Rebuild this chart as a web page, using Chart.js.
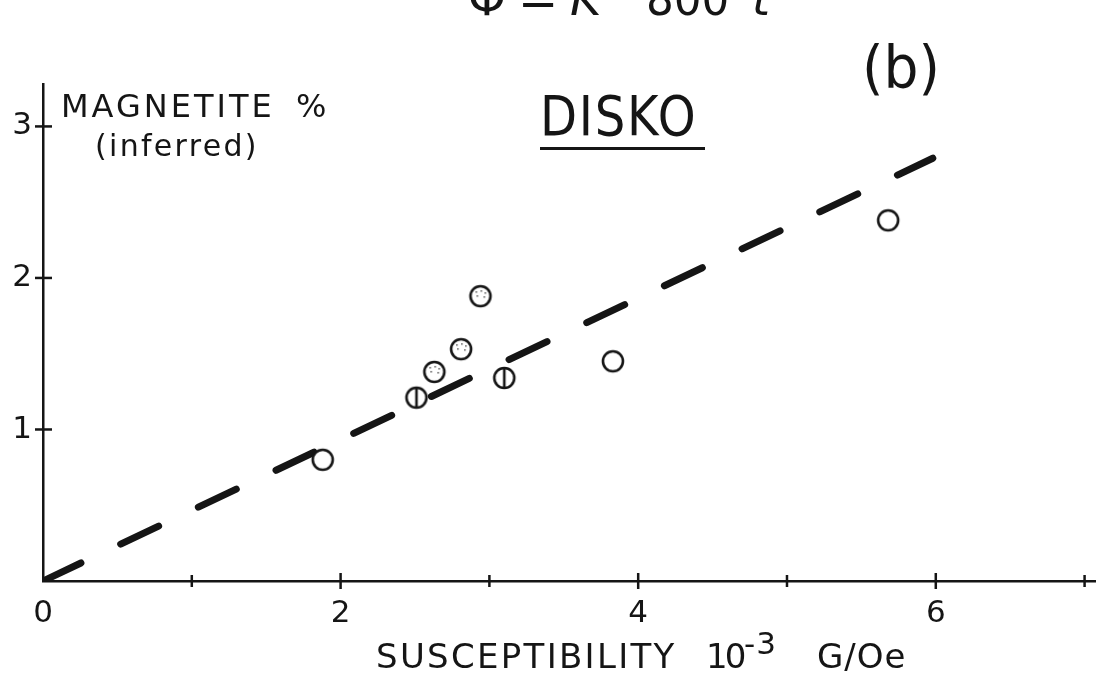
<!DOCTYPE html>
<html>
<head>
<meta charset="utf-8">
<script src="https://cdn.jsdelivr.net/npm/chart.js@4.4.1/dist/chart.umd.min.js"></script>
<style>
  html, body { margin: 0; padding: 0; background: #fff; }
  #wrap { width: 1110px; height: 677px; }
</style>
</head>
<body>
<div id="wrap"><canvas id="myChart" width="1110" height="677"></canvas></div>
<script>
// open circles
const openX = [1.88, 3.83, 5.68];
const openY = [0.80, 1.45, 2.38];
// circles with a vertical bar
const barX = [2.51, 3.10];
const barY = [1.21, 1.34];
// stippled circles
const dotX = [2.63, 2.81, 2.94];
const dotY = [1.38, 1.53, 1.88];
// dashed fit line
const fitX = [0, 5.98];
const fitY = [0, 2.79];

const xTickValues = [0, 1, 2, 3, 4, 5, 6, 7];
const xLabels = [0, 2, 4, 6];
const yTickValues = [1, 2, 3];

const ink = '#151515';
const font = 'DejaVu Sans';

const toPoints = (xs, ys) => xs.map((v, i) => ({ x: v, y: ys[i] }));

function marker(kind) {
  const c = document.createElement('canvas');
  c.width = 28; c.height = 28;
  const g = c.getContext('2d');
  g.fillStyle = '#fff';
  g.strokeStyle = ink;
  g.lineWidth = 2.6;
  g.beginPath();
  g.arc(14, 14, 10, 0, Math.PI * 2);
  g.fill();
  g.stroke();
  if (kind === 'bar') {
    g.beginPath();
    g.moveTo(14, 5);
    g.lineTo(14, 23);
    g.stroke();
  }
  if (kind === 'dots') {
    g.fillStyle = '#666';
    [[9, 9], [14, 8], [18, 10], [10, 13], [17, 14]].forEach(([a, b]) => g.fillRect(a, b, 1.6, 1.6));
  }
  return c;
}

function txt(ctx, s, x, y, size, o = {}) {
  ctx.save();
  ctx.font = (o.style || '') + ' ' + size + 'px "' + font + '"';
  ctx.letterSpacing = (o.sp || 0) + 'px';
  ctx.textAlign = 'left';
  ctx.textBaseline = 'alphabetic';
  ctx.translate(x, y);
  ctx.scale(o.sx || 1, 1);
  ctx.fillText(s, 0, 0);
  ctx.restore();
}

const decor = {
  id: 'decor',
  afterDraw(chart) {
    const { ctx, chartArea } = chart;
    const x = chart.scales.x, y = chart.scales.y;
    ctx.save();
    ctx.strokeStyle = ink;
    ctx.fillStyle = ink;
    ctx.lineWidth = 2.5;
    // tick marks crossing the axes
    xTickValues.filter(v => v > 0).forEach(v => {
      const px = x.getPixelForValue(v);
      const h = v % 2 === 0 ? 8 : 6;
      ctx.beginPath();
      ctx.moveTo(px, chartArea.bottom - h);
      ctx.lineTo(px, chartArea.bottom + h);
      ctx.stroke();
    });
    yTickValues.forEach(v => {
      const py = y.getPixelForValue(v);
      ctx.beginPath();
      ctx.moveTo(chartArea.left - 8, py);
      ctx.lineTo(chartArea.left + 9, py);
      ctx.stroke();
    });

    // clipped equation at the very top
    txt(ctx, '\u03A6', 468, 15, 48);
    txt(ctx, '=', 518, 15, 48);
    txt(ctx, 'K', 570, 15, 48, { style: 'italic' });
    txt(ctx, '800', 646, 15, 46, { sx: 0.95 });
    txt(ctx, 't', 752, 15, 46, { style: 'italic' });

    // panel letter
    txt(ctx, '(b)', 862, 88, 58, { sx: 0.95 });

    // title
    txt(ctx, 'DISKO', 540, 135, 56, { sx: 0.86, sp: 2 });
    ctx.fillRect(540, 147, 165, 3);

    // y axis title
    txt(ctx, 'MAGNETITE', 61, 117, 32, { sp: 3 });
    txt(ctx, '%', 296, 117, 32);
    txt(ctx, '(inferred)', 95, 156, 30, { sp: 2.3 });

    // x axis title
    txt(ctx, 'SUSCEPTIBILITY', 376, 668, 34, { sp: 2.3 });
    txt(ctx, '10', 706, 668, 34, { sp: -3 });
    txt(ctx, '-3', 744, 654, 31, { sp: 1 });
    txt(ctx, 'G/Oe', 817, 668, 34, { sp: 1 });
    ctx.restore();
  }
};

new Chart(document.getElementById('myChart'), {
  type: 'scatter',
  data: {
    datasets: [
      {
        label: 'open',
        data: toPoints(openX, openY),
        pointStyle: marker('open'),
        pointRadius: 14,
        order: 1
      },
      {
        label: 'bar',
        data: toPoints(barX, barY),
        pointStyle: marker('bar'),
        pointRadius: 14,
        order: 1
      },
      {
        label: 'stippled',
        data: toPoints(dotX, dotY),
        pointStyle: marker('dots'),
        pointRadius: 14,
        order: 1
      },
      {
        label: 'fit',
        data: toPoints(fitX, fitY),
        showLine: true,
        pointRadius: 0,
        borderColor: ink,
        borderWidth: 7,
        borderDash: [42, 44],
        borderCapStyle: 'round',
        order: 2
      }
    ]
  },
  options: {
    responsive: false,
    animation: false,
    devicePixelRatio: 1,
    layout: { padding: { top: 84, right: 3, left: 0, bottom: 0 } },
    plugins: {
      legend: { display: false },
      tooltip: { enabled: false }
    },
    scales: {
      x: {
        type: 'linear',
        min: 0,
        max: 7.07,
        afterFit: s => { s.height = 96; },
        afterBuildTicks: s => { s.ticks = xTickValues.map(v => ({ value: v })); },
        grid: { display: false, drawTicks: false },
        border: { display: true, color: ink, width: 2.5 },
        ticks: {
          callback: v => xLabels.includes(v) ? String(v) : '',
          padding: 14,
          color: ink,
          autoSkip: false,
          maxRotation: 0,
          font: { family: font, size: 31 }
        }
      },
      y: {
        type: 'linear',
        min: 0,
        max: 3.28,
        afterFit: s => { s.width = 43; },
        afterBuildTicks: s => { s.ticks = yTickValues.map(v => ({ value: v })); },
        grid: { display: false, drawTicks: false },
        border: { display: true, color: ink, width: 2.5 },
        ticks: {
          padding: 11,
          color: ink,
          font: { family: font, size: 31 }
        }
      }
    }
  },
  plugins: [decor]
});
</script>
</body>
</html>
